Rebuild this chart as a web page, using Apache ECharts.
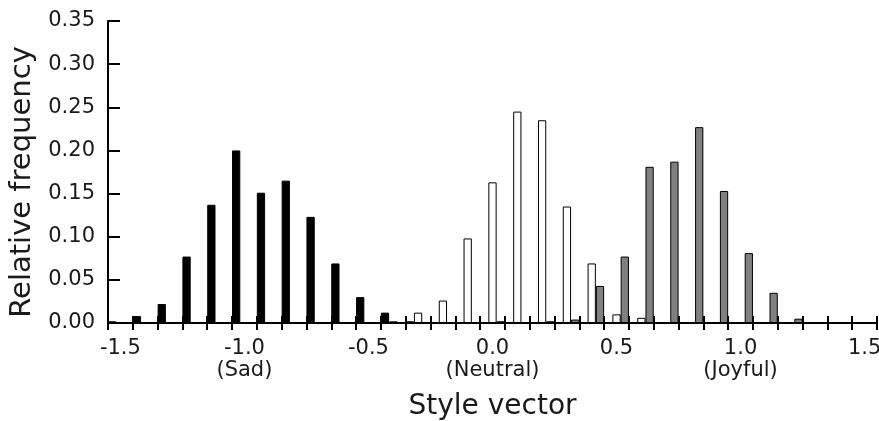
<!DOCTYPE html>
<html>
<head>
<meta charset="utf-8">
<script src="https://cdn.jsdelivr.net/npm/echarts@6/dist/echarts.min.js"></script>
<style>
  html, body { margin: 0; padding: 0; background: #ffffff; }
  #chart { width: 879px; height: 421px; }
</style>
</head>
<body>
<div id="chart"></div>
<script>
// Histogram bins of the style vector, centred on -1.5 ... 1.5 (width 0.1)
const bins = [
  '-1.5', '-1.4', '-1.3', '-1.2', '-1.1', '-1.0', '-0.9', '-0.8', '-0.7', '-0.6',
  '-0.5', '-0.4', '-0.3', '-0.2', '-0.1', '0.0', '0.1', '0.2', '0.3', '0.4',
  '0.5', '0.6', '0.7', '0.8', '0.9', '1.0', '1.1', '1.2', '1.3', '1.4', '1.5'
];

// Relative frequency per bin for each emotional style (null = no samples)
const sadFreq = [
  0.002, 0.008, 0.022, 0.077, 0.137, 0.200, 0.151, 0.165, 0.123, 0.069,
  0.030, 0.012, 0.002, null, null, null, null, null, null, null,
  null, null, null, null, null, null, null, null, null, null, null
];
const neutralFreq = [
  null, null, null, null, null, null, null, null, null, null,
  null, 0.002, 0.012, 0.026, 0.098, 0.163, 0.245, 0.235, 0.135, 0.069,
  0.010, 0.006, null, null, null, null, null, null, null, null, null
];
const joyfulFreq = [
  null, null, null, null, null, null, null, null, null, null,
  null, null, null, null, null, 0.002, null, 0.002, 0.004, 0.043,
  0.077, 0.181, 0.187, 0.227, 0.153, 0.081, 0.035, 0.005, null, null, null
];

// Style names printed under the anchor values
const styleNames = { '-1.0': '(Sad)', '0.0': '(Neutral)', '1.0': '(Joyful)' };

const xName = 'Style vector';
const yName = 'Relative frequency';

const FONT = 'DejaVu Sans';
const INK = '#1a1a1a';

const chart = echarts.init(document.getElementById('chart'), null, { renderer: 'canvas' });

function barSeries(name, data, fill) {
  return {
    name: name,
    type: 'bar',
    xAxisIndex: 0,
    yAxisIndex: 0,
    data: data,
    barGap: '0%',
    barCategoryGap: '0%',
    itemStyle: { color: fill, borderColor: '#000000', borderWidth: 1 },
    emphasis: { disabled: true },
    animation: false
  };
}

chart.setOption({
  animation: false,
  backgroundColor: '#ffffff',
  grid: {
    left: 108, right: 2, top: 21, bottom: 98,
    containLabel: false,
    outerBoundsMode: 'none'
  },
  xAxis: [
    {
      type: 'category',
      data: bins,
      position: 'bottom',
      boundaryGap: true,
      name: xName,
      nameLocation: 'middle',
      nameGap: 70,
      nameTextStyle: { fontFamily: FONT, fontSize: 28, color: INK },
      axisLine: { show: true, lineStyle: { color: '#000000', width: 2 } },
      axisTick: { show: true, inside: false, length: 7, interval: 0,
                  lineStyle: { color: '#000000', width: 2 } },
      axisLabel: {
        show: true,
        interval: 4,
        margin: 15,
        fontFamily: FONT,
        fontSize: 21,
        lineHeight: 22,
        color: INK,
        formatter: function (v) {
          return styleNames[v] ? v + '\n' + styleNames[v] : v;
        }
      },
      splitLine: { show: false }
    },
    {
      // second copy of the bin axis: tick marks pointing up into the plot
      type: 'category',
      data: bins,
      position: 'bottom',
      boundaryGap: true,
      axisLine: { show: false },
      axisTick: { show: true, inside: true, length: 7, interval: 0,
                  lineStyle: { color: '#000000', width: 2 } },
      axisLabel: { show: false },
      splitLine: { show: false }
    }
  ],
  yAxis: {
    type: 'value',
    min: 0,
    max: 0.35,
    interval: 0.05,
    name: yName,
    nameLocation: 'middle',
    nameGap: 68,
    nameTextStyle: { fontFamily: FONT, fontSize: 29, color: INK, padding: [0, 20, 0, 0] },
    axisLine: { show: true, lineStyle: { color: '#000000', width: 2 } },
    axisTick: { show: true, inside: true, length: 12, lineStyle: { color: '#000000', width: 2 } },
    axisLabel: {
      margin: 13,
      fontFamily: FONT,
      fontSize: 21,
      color: INK,
      formatter: function (v) { return v.toFixed(2); }
    },
    splitLine: { show: false }
  },
  series: [
    barSeries('Sad', sadFreq, '#000000'),
    barSeries('Neutral', neutralFreq, '#ffffff'),
    barSeries('Joyful', joyfulFreq, '#808080')
  ]
});
</script>
</body>
</html>
